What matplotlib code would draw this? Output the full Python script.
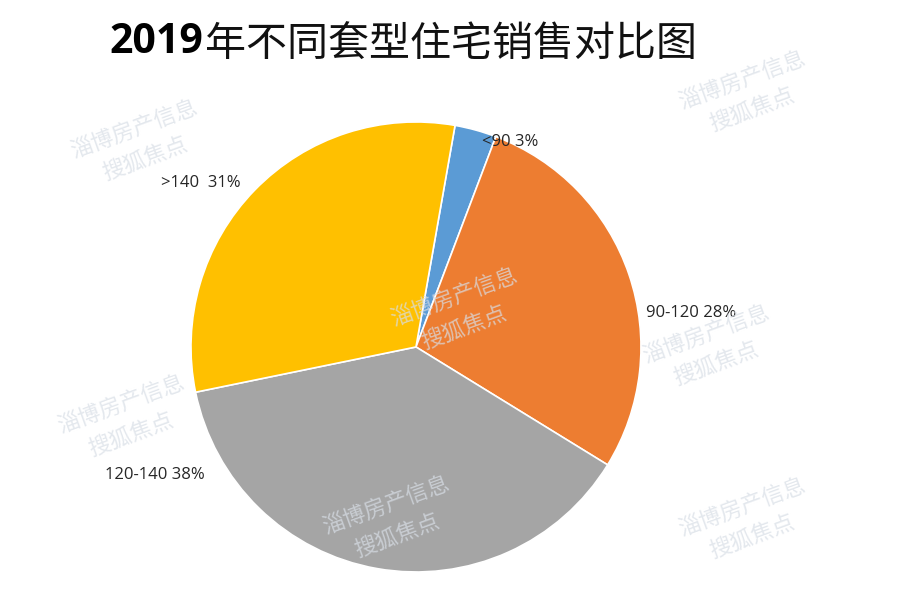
import matplotlib.pyplot as plt

# data
categories = ["<90", "90-120", "120-140", ">140"]
shares = [3, 28, 38, 31]
label_texts = ["<90 3%", "90-120 28%", "120-140 38%", ">140  31%"]
colors = ["#5B9BD5", "#ED7D31", "#A5A5A5", "#FFC000"]
title_year = "2019"
title_rest = "年不同套型住宅销售对比图"
watermark = "淄博房产信息\n搜狐焦点"

# label anchor points (axes-data units, pie radius = 1)
label_pos = [(0.42, 0.91), (1.225, 0.15), (-1.16, -0.57), (-0.955, 0.73)]
# watermark centres in figure fraction
wm_pos = [(0.155, 0.765), (0.83, 0.845), (0.51, 0.49), (0.79, 0.43),
          (0.14, 0.315), (0.435, 0.15), (0.83, 0.147)]

plt.rcParams["font.family"] = ["Noto Sans CJK SC", "DejaVu Sans"]

fig = plt.figure(figsize=(9, 6.12), dpi=100)
ax = fig.add_axes([0.2122, 0.0654, 0.5, 0.7353])

ax.pie(shares, colors=colors, startangle=80, counterclock=False,
       wedgeprops=dict(edgecolor="white", linewidth=1.2))
ax.set_xlim(-1, 1)
ax.set_ylim(-1, 1)
ax.set_aspect("equal")
ax.axis("off")

for txt, (x, y) in zip(label_texts, label_pos):
    ax.text(x, y, txt, ha="center", va="center", fontsize=12, color="#262626",
            family=["Open Sans", "DejaVu Sans"])

t1 = fig.text(0.122, 0.93, title_year, fontsize=29.5, fontweight="bold",
              ha="left", va="center", family=["Open Sans", "DejaVu Sans"])
fig.canvas.draw()
bb = t1.get_window_extent()
x_next = bb.x1 / fig.bbox.width
fig.text(x_next + 0.002, 0.928, title_rest, fontsize=29.5, ha="left", va="center",
         color="#111111")

for (x, y) in wm_pos:
    fig.text(x, y, watermark, fontsize=16, rotation=20, ha="center", va="center",
             color="#d8dee6", alpha=0.7, linespacing=1.5, zorder=10,
             multialignment="center")

fig.savefig("out.png", dpi=100)
